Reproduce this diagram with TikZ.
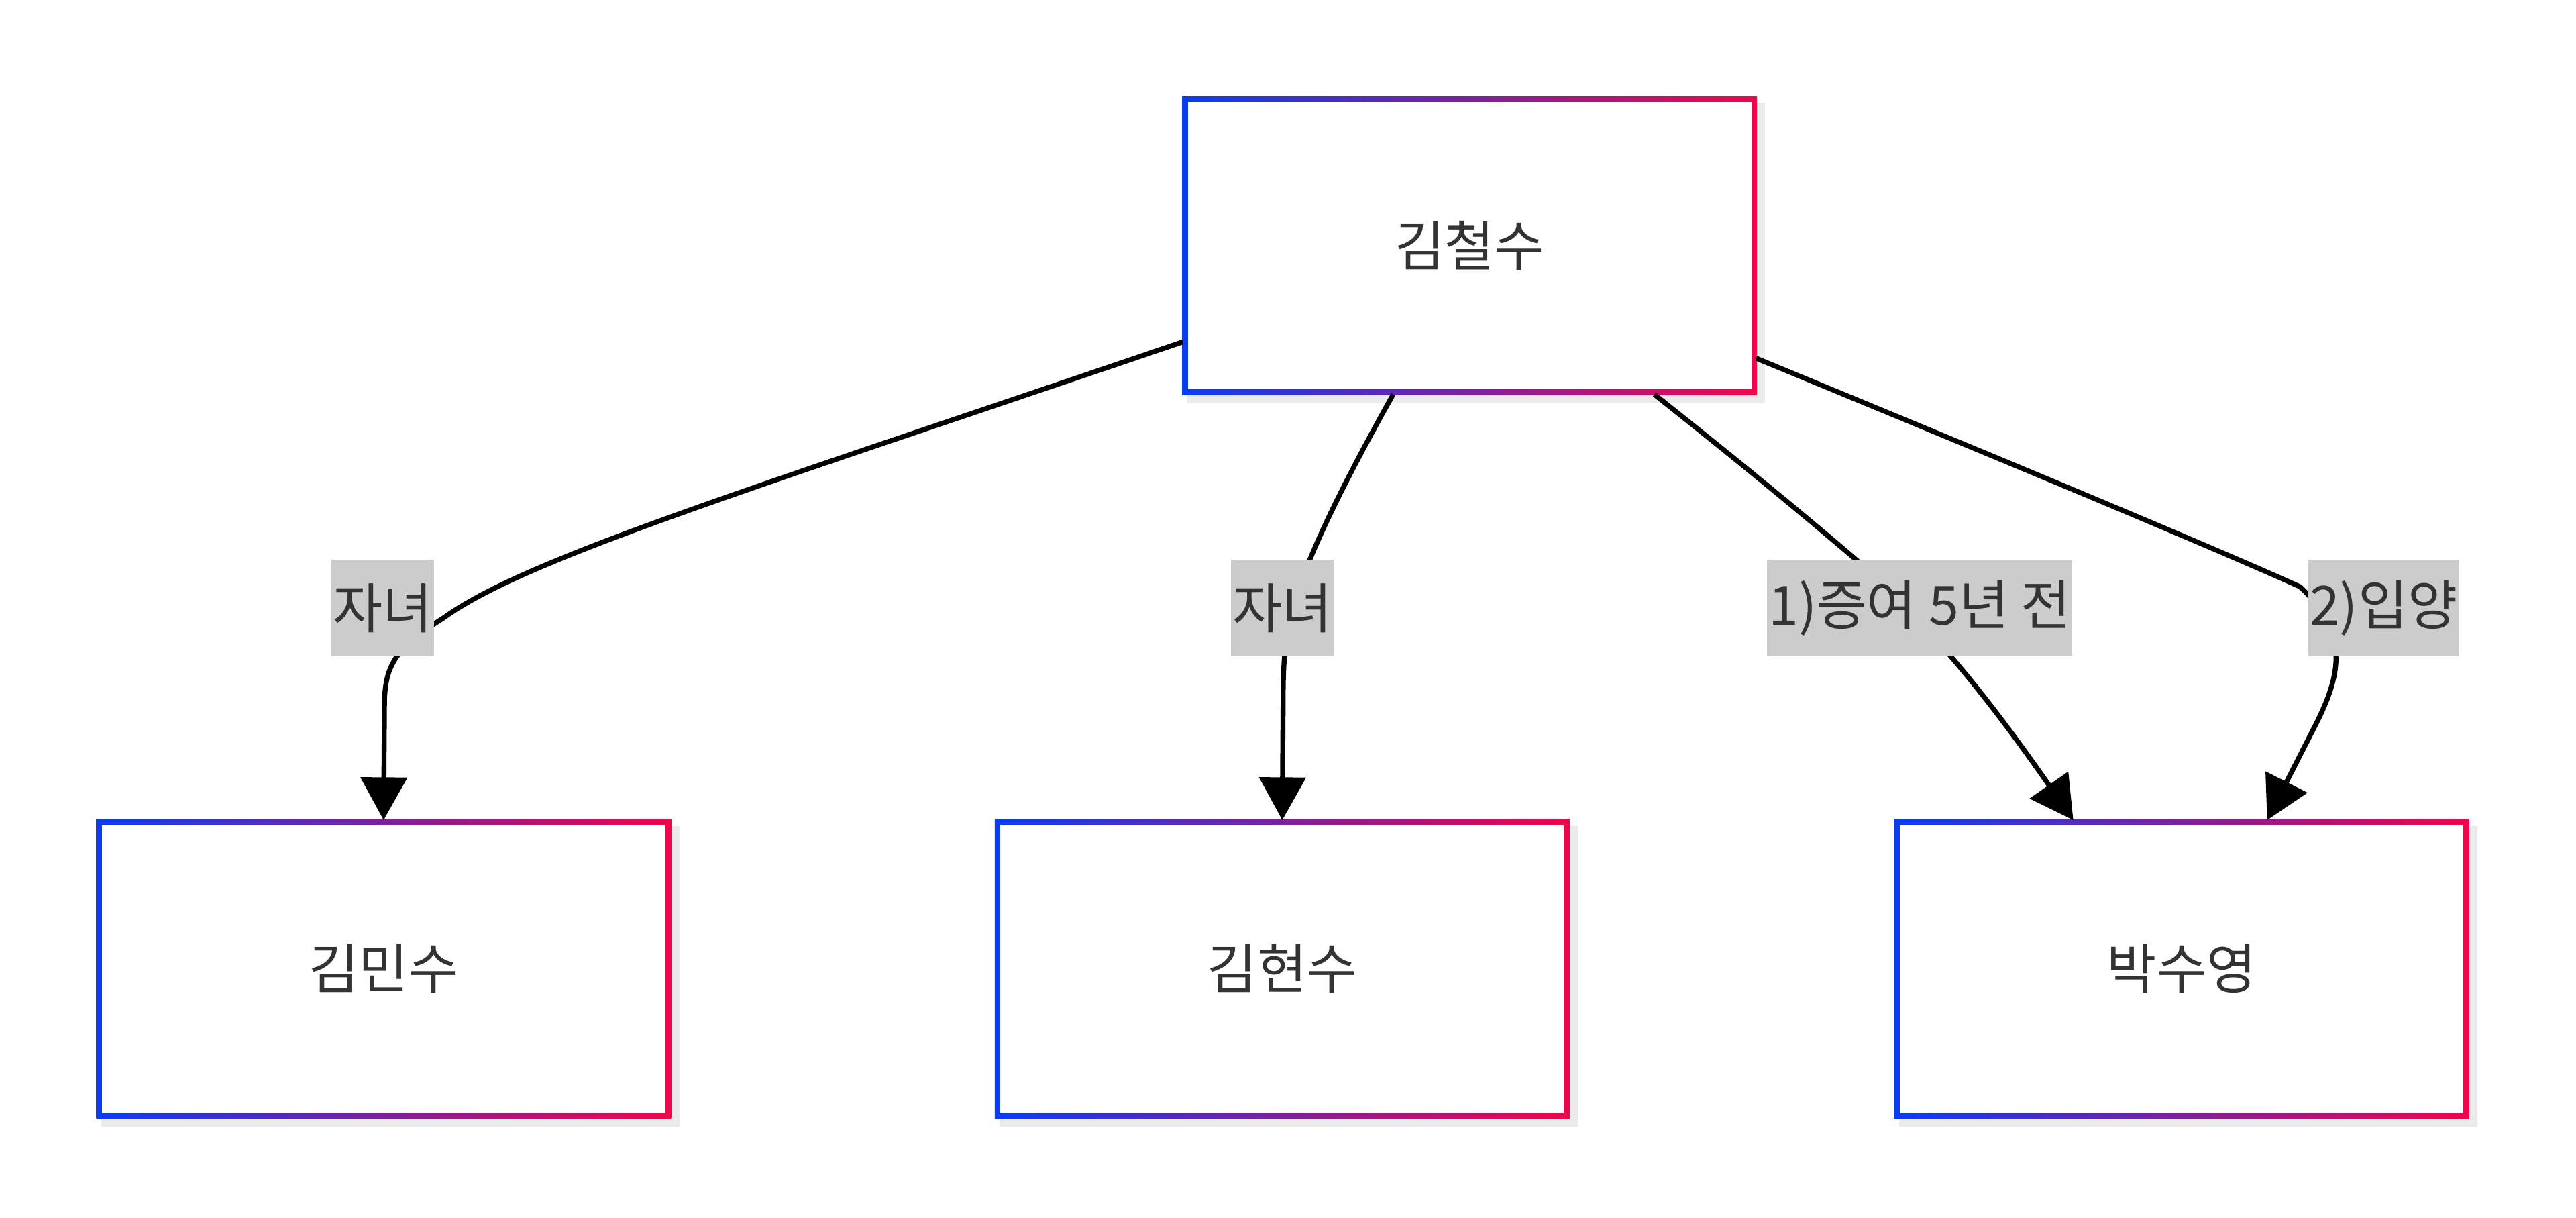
\documentclass[tikz,border=0pt]{standalone}
\usepackage{fontspec}
\setmainfont{Noto Sans CJK KR}
\usetikzlibrary{arrows.meta}
\definecolor{gblue}{HTML}{0A3CF0}
\definecolor{gred}{HTML}{F0064A}
\definecolor{txt}{HTML}{333333}
\definecolor{lbl}{HTML}{CCCCCC}
\tikzset{
  boxtext/.style={text=txt,font=\fontsize{33}{38}\selectfont,minimum width=343pt,minimum height=175pt,inner sep=0pt},
  elabel/.style={fill=lbl,text=txt,font=\fontsize{33}{38}\selectfont,inner sep=1pt,minimum height=59pt},
  conn/.style={line width=3pt,black},
  arr/.style={conn,-{Triangle[length=26pt,width=28pt]}}
}
\newcommand{\gbox}[4]{%
  \fill[black,opacity=0.08] (#2-172,#3-87) rectangle (#2+180,#3+96);
  \shade[left color=gblue,right color=gred] (#2-175,#3-91) rectangle (#2+175,#3+91);
  \fill[white] (#2-171.5,#3-87.5) rectangle (#2+171.5,#3+87.5);
  \node[boxtext] (#1) at (#2,#3) {#4};}
\begin{document}
\begin{tikzpicture}[x=1pt,y=-1pt]
\useasboundingbox (0,0) rectangle (1568,741);
\gbox{top}{894.5}{149.5}{김철수}
\gbox{a}{233.5}{589.5}{김민수}
\gbox{b}{780.5}{589.5}{김현수}
\gbox{c}{1328}{589.5}{박수영}
\coordinate (s1) at (720,208);
\coordinate (s2) at (848,240);
\coordinate (s3) at (1007,240);
\coordinate (s4) at (1069,218);
\node[elabel] (l1) at (233,370) {자녀};
\node[elabel] (l2) at (780.5,370) {자녀};
\node[elabel] (l3) at (1168.5,370) {1)증여 5년 전};
\node[elabel] (l4) at (1451,370) {2)입양};
\begin{scope}[on background layer/.style={}]
\draw[arr] (s1) .. controls (450,300) and (320,340) .. (270,376) .. controls (240,395) and (234,405) .. (234,430) -- (233.5,499);
\draw[arr] (s2) .. controls (820,290) and (800,330) .. (790,360) .. controls (782,385) and (781,400) .. (781,430) -- (780.5,499);
\draw[arr] (s3) .. controls (1060,282) and (1100,315) .. (1135,345) .. controls (1170,378) and (1200,410) .. (1262,499);
\draw[arr] (s4) .. controls (1200,272) and (1340,330) .. (1400,357) .. controls (1430,385) and (1425,410) .. (1410,440) -- (1380,499);
\end{scope}
\node[elabel] at (l1) {자녀};
\node[elabel] at (l2) {자녀};
\node[elabel] at (l3) {1)증여 5년 전};
\node[elabel] at (l4) {2)입양};
\end{tikzpicture}
\end{document}
